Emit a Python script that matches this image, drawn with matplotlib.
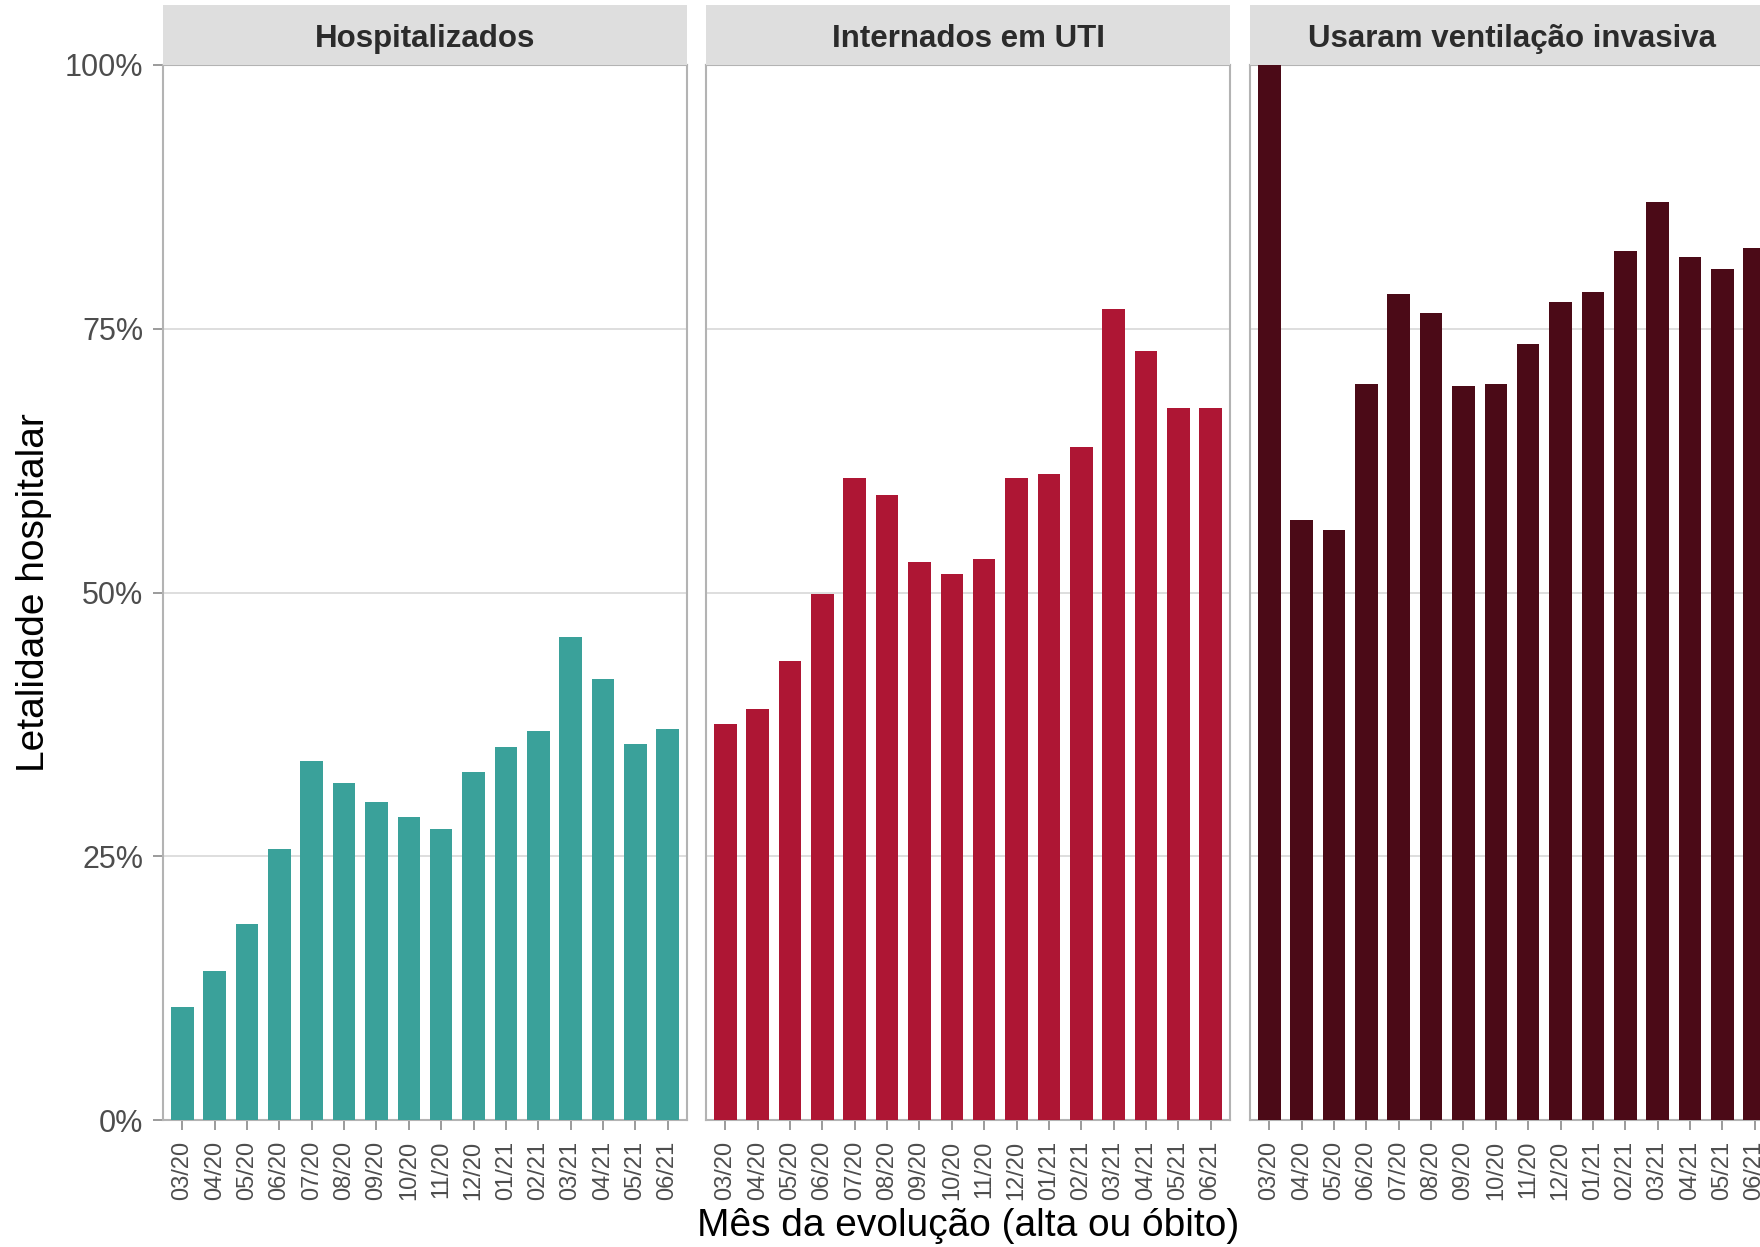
import numpy as np
import matplotlib.pyplot as plt
from matplotlib.ticker import PercentFormatter

plt.rcParams['font.family'] = ['Liberation Sans', 'DejaVu Sans']

meses = ['03/20', '04/20', '05/20', '06/20', '07/20', '08/20', '09/20', '10/20',
         '11/20', '12/20', '01/21', '02/21', '03/21', '04/21', '05/21', '06/21']

paineis = ['Hospitalizados', 'Internados em UTI', 'Usaram ventilação invasiva']

hospitalizados = [10.7, 14.1, 18.6, 25.7, 34.0, 31.9, 30.1, 28.7,
                  27.6, 33.0, 35.4, 36.9, 45.8, 41.8, 35.6, 37.1]
uti = [37.5, 39.0, 43.5, 49.9, 60.9, 59.2, 52.9, 51.8,
       53.2, 60.9, 61.2, 63.8, 76.9, 72.9, 67.5, 67.5]
ventilacao = [100.0, 56.9, 55.9, 69.8, 78.3, 76.5, 69.6, 69.8,
              73.6, 77.5, 78.5, 82.4, 87.0, 81.8, 80.7, 82.7]

series = [hospitalizados, uti, ventilacao]
cores = ['#3AA19A', '#AE1634', '#4B0A17']

W, H = 1760, 1247
fig = plt.figure(figsize=(W / 100, H / 100), dpi=100)

lefts = [163, 706, 1250]
pw, pb, ph = 524, 127, 1055
x = np.arange(len(meses))

for i, (nome, vals, cor) in enumerate(zip(paineis, series, cores)):
    ax = fig.add_axes([lefts[i] / W, pb / H, pw / W, ph / H])
    ax.bar(x, vals, width=0.7, color=cor, zorder=3)
    ax.set_xlim(-0.6, len(meses) - 0.4)
    ax.set_ylim(0, 100)
    ax.set_yticks([0, 25, 50, 75, 100])
    ax.yaxis.set_major_formatter(PercentFormatter(decimals=0))
    ax.grid(axis='y', color='#DEDEDE', linewidth=1.4, zorder=0)
    ax.set_xticks(x)
    ax.set_xticklabels(meses)
    ax.tick_params(axis='x', labelrotation=90, labelsize=17, labelcolor='#4D4D4D',
                   length=7, width=1.2, color='#8A8A8A', pad=8)
    ax.tick_params(axis='y', labelsize=22, labelcolor='#4D4D4D',
                   length=7, width=1.2, color='#8A8A8A', pad=7)
    if i > 0:
        ax.tick_params(axis='y', left=False, labelleft=False)
    for s in ax.spines.values():
        s.set_color('#B3B3B3')
        s.set_linewidth(1.5)

    # faixa do titulo do painel
    sx = fig.add_axes([lefts[i] / W, (H - 65) / H, pw / W, 60 / H])
    sx.set_facecolor('#DEDEDE')
    sx.set_xticks([])
    sx.set_yticks([])
    for s in sx.spines.values():
        s.set_visible(False)
    sx.text(0.5, 0.30, nome, ha='center', va='baseline', fontsize=22.5,
            fontweight='bold', color='#2B2B2B', transform=sx.transAxes)

fig.text(34 / W, 1 - 593 / H, 'Letalidade hospitalar', rotation=90,
         ha='center', va='center', fontsize=28, color='black')
fig.text(968 / W, 1 - 1226 / H, 'Mês da evolução (alta ou óbito)',
         ha='center', va='center', fontsize=28, color='black')

fig.savefig('out.png', dpi=100)
